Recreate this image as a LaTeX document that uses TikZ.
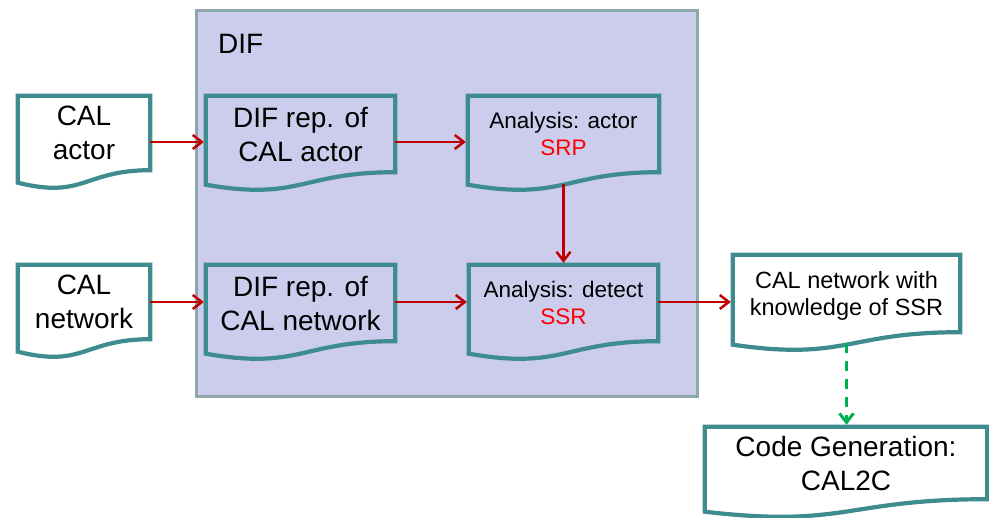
\documentclass[tikz,border=0pt]{standalone}
\usepackage{fontspec}
\setmainfont{Liberation Sans}
\usetikzlibrary{arrows.meta,calc}
\definecolor{tealline}{RGB}{62,140,142}
\definecolor{lavfill}{RGB}{204,204,236}
\definecolor{cborder}{RGB}{140,168,170}
\definecolor{darkred}{RGB}{192,0,0}
\definecolor{greenline}{RGB}{0,176,80}
\definecolor{redtxt}{RGB}{255,0,0}
\newcommand\docoutline[1]{%
  \draw[docline] (#1.north west) -- (#1.north east) -- (#1.south east)
    .. controls (#1.south) and ($(#1.south)+(0,29)$) .. ($(#1.south west)+(0,12.5)$) -- cycle;}
\tikzset{
  docline/.style={draw=tealline, line width=4.2pt, line join=miter},
  docnode/.style={inner sep=0pt, align=center, text depth=0pt},
  bigtxt/.style={font=\fontsize{28}{34}\selectfont},
  smalltxt/.style={font=\fontsize{22.5}{27}\selectfont},
  midtxt/.style={font=\fontsize{23.5}{27}\selectfont},
  container/.style={draw=cborder, fill=lavfill, line width=3pt, inner sep=0pt},
  redarrow/.style={draw=darkred, line width=2.5pt, shorten >=2pt, -{Straight Barb[length=9pt,width=14pt]}},
  greenarrow/.style={draw=greenline, line width=3pt, dash pattern=on 10pt off 8pt, shorten >=2pt, -{Straight Barb[length=9pt,width=14pt]}}
}
\begin{document}
\begin{tikzpicture}[x=1pt, y=-1pt]
\useasboundingbox (0,0) rectangle (989,518);
\node[container, minimum width=501pt, minimum height=386pt] (dif) at (446.5,204) {};
\node[bigtxt, anchor=base west, inner sep=0pt] (diflabel) at (218,54) {DIF};

\node[docnode, bigtxt, minimum width=132pt, minimum height=74pt] (calactor) at (84,133) {CAL\\actor};
\node[docnode, bigtxt, minimum width=132pt, minimum height=74pt] (calnet) at (84,302) {CAL\\network};
\node[docnode, bigtxt, minimum width=189pt, minimum height=76pt] (difactor) at (300.5,134) {DIF rep. of\\CAL actor};
\node[docnode, bigtxt, minimum width=189pt, minimum height=76pt] (difnet) at (300.5,303) {DIF rep. of\\CAL network};
\node[docnode, smalltxt, minimum width=191pt, minimum height=76pt] (anaactor) at (563.5,134) {Analysis: actor\\\textcolor{redtxt}{SRP}};
\node[docnode, smalltxt, minimum width=189pt, minimum height=76pt] (anadetect) at (563.5,303) {Analysis: detect\\\textcolor{redtxt}{SSR}};
\node[docnode, midtxt, minimum width=227pt, minimum height=77pt] (calssr) at (846.5,293.5) {CAL network with\\knowledge of SSR};
\node[docnode, bigtxt, minimum width=282pt, minimum height=72pt] (codegen) at (846,463) {Code Generation:\\CAL2C};

\docoutline{calactor}
\docoutline{calnet}
\docoutline{difactor}
\docoutline{difnet}
\docoutline{anaactor}
\docoutline{anadetect}
\docoutline{calssr}
\docoutline{codegen}

\coordinate (rowA) at (0,142);
\coordinate (rowB) at (0,302);
\draw[redarrow] (calactor.east |- rowA) -- (difactor.west |- rowA);
\draw[redarrow] (difactor.east |- rowA) -- (anaactor.west |- rowA);
\draw[redarrow] (calnet.east |- rowB) -- (difnet.west |- rowB);
\draw[redarrow] (difnet.east |- rowB) -- (anadetect.west |- rowB);
\draw[redarrow] (anadetect.east |- rowB) -- (calssr.west |- rowB);
\draw[redarrow] ($(anaactor.south)+(0,12)$) -- (anadetect.north);
\draw[greenarrow] ($(calssr.south)+(0,11)$) -- (codegen.north -| calssr.south);
\end{tikzpicture}
\end{document}
